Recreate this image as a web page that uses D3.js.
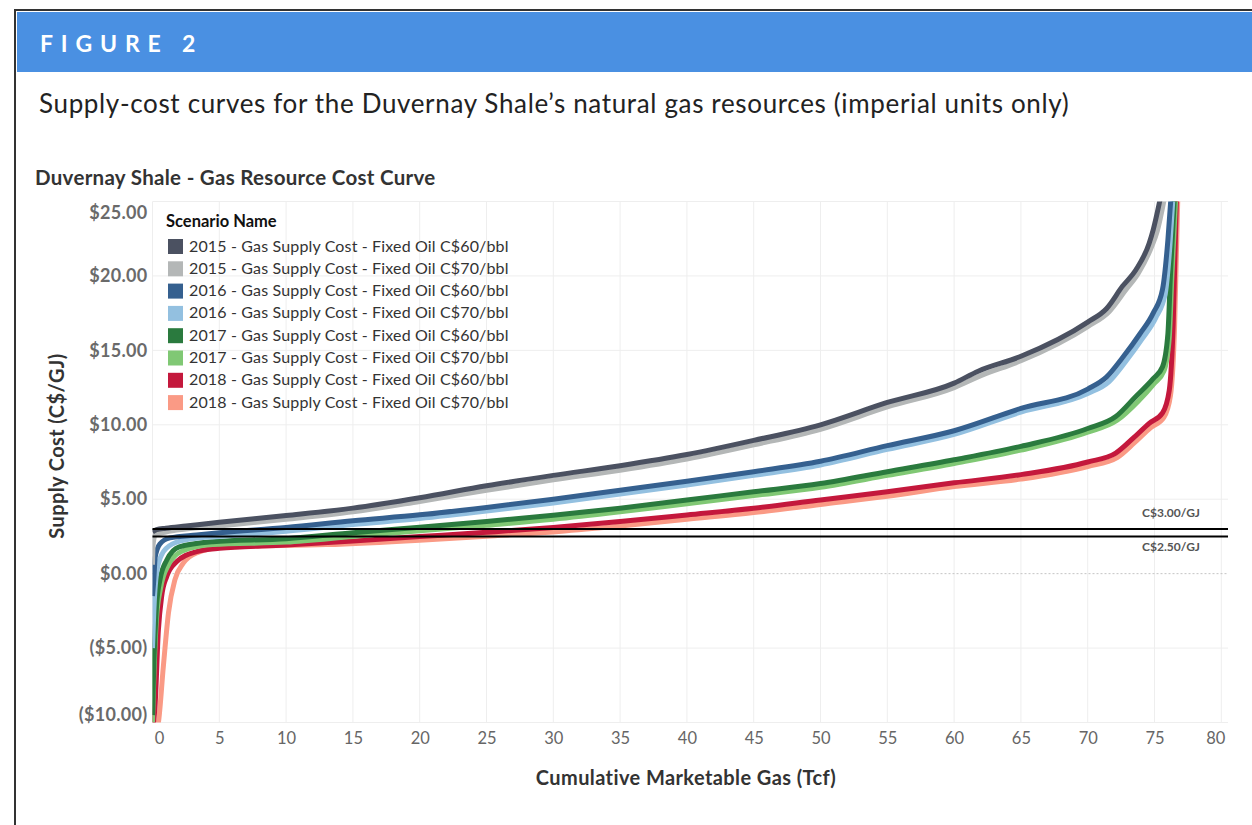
<!DOCTYPE html>
<html><head><meta charset="utf-8">
<script src="https://cdn.jsdelivr.net/npm/d3@7"></script>
<style>
body{margin:0;background:#fff;}
svg{display:block;font-family:Lato,"Open Sans",sans-serif;}
</style></head>
<body><svg id="c" width="1252" height="825"></svg>
<script>
// ---- data ----
const seriesNames = [
  "2015 - Gas Supply Cost - Fixed Oil C$60/bbl",
  "2015 - Gas Supply Cost - Fixed Oil C$70/bbl",
  "2016 - Gas Supply Cost - Fixed Oil C$60/bbl",
  "2016 - Gas Supply Cost - Fixed Oil C$70/bbl",
  "2017 - Gas Supply Cost - Fixed Oil C$60/bbl",
  "2017 - Gas Supply Cost - Fixed Oil C$70/bbl",
  "2018 - Gas Supply Cost - Fixed Oil C$60/bbl",
  "2018 - Gas Supply Cost - Fixed Oil C$70/bbl"
];
const seriesColors = ["#4b5161","#b4b7b7","#35608f","#93c0e0","#2a7a3e","#80c874","#c4183c","#fa9a85"];

const x2015_60 = [0,0.3,1,2.5,5,10,15,20,25,30,35,40,45,50,55,60,61.8,65,70,71.4,72.6,73.6,74.6,74.9,75.5];
const y2015_60 = [2.8,2.95,3.05,3.2,3.45,3.9,4.4,5.1,5.9,6.6,7.25,8.0,8.95,10.0,11.5,12.8,13.6,14.6,16.9,17.8,19.3,20.4,22.2,23.1,25.5];
const x2015_70 = [0,0.05,0.2,1,2.5,5,10,15,20,25,30,35,40,45,50,55,60,62,65,70,71.6,72.8,73.8,74.8,75.2,75.8];
const y2015_70 = [0.6,2.0,2.6,2.8,3.0,3.2,3.65,4.15,4.85,5.6,6.3,6.95,7.7,8.65,9.7,11.2,12.5,13.3,14.3,16.6,17.6,19.0,20.2,22.0,23.0,25.5];
const x2016_60 = [0,0.1,0.2,0.56,1.3,3.3,5,10,15,20,25,30,35,40,45,50,55,60,65,70,71.4,72.6,73.9,74.9,75.6,76.0,76.25];
const y2016_60 = [-1.5,-0.4,1.1,2.0,2.4,2.6,2.75,3.1,3.55,3.95,4.45,5.0,5.6,6.2,6.85,7.55,8.6,9.6,11.1,12.4,13.2,14.5,16.1,17.5,19.1,22.4,25.5];
const x2016_70 = [0,0.1,0.3,0.7,1.5,3,5,10,15,20,25,30,35,40,45,50,55,60,65,70,71.6,72.8,74.1,75.1,75.8,76.15,76.4];
const y2016_70 = [-5,-2.5,0,1.3,2.0,2.35,2.5,2.85,3.3,3.7,4.2,4.75,5.35,5.95,6.6,7.3,8.35,9.35,10.85,12.1,12.9,14.2,15.8,17.2,18.8,22.0,25.5];
const x2017_60 = [0,0.1,0.3,0.56,1.06,2,4.5,10,15,20,25,30,35,40,45,50,55,60,65,70,72.1,73.6,74.9,75.6,76.0,76.2,76.5];
const y2017_60 = [-9.5,-6,-2.2,-0.4,0.9,1.8,2.15,2.35,2.75,3.12,3.5,3.92,4.4,4.95,5.5,6.05,6.85,7.65,8.55,9.75,10.55,11.9,13.1,13.9,16.1,20.2,25.5];
const x2017_70 = [0,0.1,0.3,0.6,1.2,2.2,4.5,10,15,20,25,30,35,40,45,50,55,60,65,70,72.2,73.8,75.0,75.7,76.1,76.3,76.6];
const y2017_70 = [-10,-7,-3,-1,0.6,1.5,1.95,2.12,2.5,2.88,3.25,3.65,4.15,4.7,5.25,5.8,6.6,7.4,8.3,9.5,10.3,11.6,12.8,13.6,15.8,20,25.5];
const x2018_60 = [0,0.19,0.44,0.69,1.06,1.8,3.3,5,10,15,20,25,30,35,40,45,50,55,60,65,70,72.1,73.4,74.6,75.6,76.1,76.4,76.65];
const y2018_60 = [-10.5,-8.9,-3.8,-1.5,-0.2,0.8,1.48,1.7,1.93,2.2,2.49,2.78,3.1,3.5,3.94,4.39,4.95,5.5,6.1,6.65,7.5,8.1,9.1,10.1,10.8,12.3,16.8,25.5];
const x2018_70 = [0.3,0.44,0.81,1.2,1.68,2.3,3.3,5.7,13,20,25,30,35,40,45,50,55,60,65,70,72.2,73.5,74.7,75.7,76.2,76.5,76.75];
const y2018_70 = [-10.5,-10,-6.25,-2.6,-0.4,0.7,1.4,1.8,1.95,2.25,2.52,2.8,3.2,3.65,4.1,4.65,5.2,5.85,6.35,7.2,7.8,8.8,9.8,10.5,12,16.5,25.5];

const seriesX = [x2015_60,x2015_70,x2016_60,x2016_70,x2017_60,x2017_70,x2018_60,x2018_70];
const seriesY = [y2015_60,y2015_70,y2016_60,y2016_70,y2017_60,y2017_70,y2018_60,y2018_70];

const xTicks = [0,5,10,15,20,25,30,35,40,45,50,55,60,65,70,75,80];
const yTicks = [-10,-5,0,5,10,15,20,25];
const refValues = [3.0, 2.5];
const refLabels = ["C$3.00/GJ","C$2.50/GJ"];

// ---- layout ----
const svg = d3.select("#c");
const L = 152.5, R = 1228, T = 201.5, B = 722.5;
const x = d3.scaleLinear().domain([0, 80.5]).range([L, R]);
const y = d3.scaleLinear().domain([-10, 25]).range([B, T]);

// frame and header
svg.append("rect").attr("x",15).attr("y",10).attr("width",1252).attr("height",830)
  .attr("fill","none").attr("stroke","#333").attr("stroke-width",2);
svg.append("rect").attr("x",17).attr("y",12).attr("width",1240).attr("height",60).attr("fill","#4a90e2");
svg.append("text").attr("x",40).attr("y",52).text("FIGURE 2")
  .attr("fill","#fff").attr("font-size",23).attr("font-weight","bold").attr("letter-spacing","0.34em");
svg.append("text").attr("x",39).attr("y",113)
  .text("Supply-cost curves for the Duvernay Shale\u2019s natural gas resources (imperial units only)")
  .attr("fill","#222").attr("font-size",26).attr("letter-spacing","0.65px");
svg.append("text").attr("x",35).attr("y",185).text("Duvernay Shale - Gas Resource Cost Curve")
  .attr("fill","#333").attr("font-size",20.5).attr("font-weight","bold").attr("letter-spacing","0.3px");

// gridlines
const g = svg.append("g");
g.selectAll(".vg").data(xTicks).join("line")
  .attr("x1",d=>x(d)).attr("x2",d=>x(d)).attr("y1",T).attr("y2",B)
  .attr("stroke","#eeeeee").attr("stroke-width",1);
g.selectAll(".hg").data(yTicks.filter(d=>d!==0)).join("line")
  .attr("x1",L).attr("x2",R).attr("y1",d=>y(d)).attr("y2",d=>y(d))
  .attr("stroke","#eeeeee").attr("stroke-width",1);
g.append("line").attr("x1",L).attr("x2",R).attr("y1",y(0)).attr("y2",y(0))
  .attr("stroke","#c4c4c4").attr("stroke-dasharray","2,2");

// axes
const fmtY = v => v < 0 ? "($" + Math.abs(v).toFixed(2) + ")" : "$" + v.toFixed(2);
const yAxis = svg.append("g").attr("transform",`translate(${L},0)`)
  .call(d3.axisLeft(y).tickValues(yTicks).tickFormat(fmtY).tickSize(0).tickPadding(5));
yAxis.select(".domain").remove();
yAxis.selectAll("text").attr("font-size",18).attr("font-weight","bold").attr("fill","#6a6a6a")
  .attr("font-family","Lato,sans-serif").attr("letter-spacing","0.3px")
  .attr("dy", d => d===25 ? "0.95em" : d===-10 ? "-0.1em" : "0.32em");

const xAxis = svg.append("g").attr("transform",`translate(0,${B})`)
  .call(d3.axisBottom(x).tickValues(xTicks).tickSize(0).tickPadding(10));
xAxis.select(".domain").remove();
xAxis.selectAll("text").attr("font-size",16.5).attr("fill","#666").attr("font-family","Lato,sans-serif")
  .attr("dx", d => d===0 ? 6.5 : d===80 ? -6 : 0);

svg.append("text").attr("transform","translate(64,446) rotate(-90)").attr("text-anchor","middle")
  .text("Supply Cost (C$/GJ)").attr("font-size",20).attr("font-weight","bold").attr("fill","#333")
  .attr("letter-spacing","0.4px");
svg.append("text").attr("x",686).attr("y",785).attr("text-anchor","middle")
  .text("Cumulative Marketable Gas (Tcf)").attr("font-size",20).attr("font-weight","bold").attr("fill","#333")
  .attr("letter-spacing","0.4px");

// clip
svg.append("clipPath").attr("id","pc").append("rect").attr("x",L).attr("y",T).attr("width",R-L).attr("height",B-T);

// curves
const line = d3.line().x(d=>x(d[0])).y(d=>y(d[1])).curve(d3.curveMonotoneX);
const curves = svg.append("g").attr("clip-path","url(#pc)");
const order = [7,6,5,4,3,2,1,0];
order.forEach(i => {
  const pts = seriesX[i].map((xv,k)=>[xv, seriesY[i][k]]);
  curves.append("path").datum(pts).attr("d",line).attr("fill","none")
    .attr("stroke",seriesColors[i]).attr("stroke-width",5).attr("stroke-linejoin","round");
});

// reference lines
svg.selectAll(".ref").data(refValues).join("line")
  .attr("x1",L).attr("x2",R).attr("y1",d=>y(d)).attr("y2",d=>y(d))
  .attr("stroke","#000").attr("stroke-width",2);
svg.append("text").attr("x",1200).attr("y",y(refValues[0])-12).attr("text-anchor","end")
  .text(refLabels[0]).attr("font-size",12).attr("font-weight","bold").attr("fill","#555");
svg.append("text").attr("x",1200).attr("y",y(refValues[1])+15).attr("text-anchor","end")
  .text(refLabels[1]).attr("font-size",12).attr("font-weight","bold").attr("fill","#555");

// legend
const lg = svg.append("g").attr("transform","translate(166,0)");
lg.append("text").attr("x",0).attr("y",227).text("Scenario Name")
  .attr("font-size",16.5).attr("font-weight","bold").attr("fill","#111");
seriesNames.forEach((n,i)=>{
  const cy = 246 + i*22.3;
  lg.append("rect").attr("x",2).attr("y",cy-7).attr("width",15).attr("height",15).attr("fill",seriesColors[i]);
  lg.append("text").attr("x",23).attr("y",cy+5.5).text(n).attr("font-size",16).attr("fill","#333")
    .attr("letter-spacing","0.15px");
});
</script></body></html>
